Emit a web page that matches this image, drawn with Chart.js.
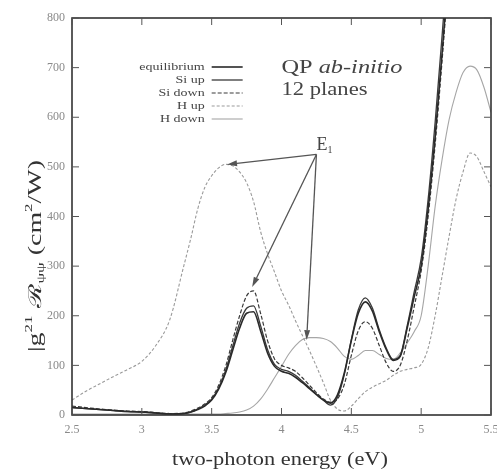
<!DOCTYPE html>
<html>
<head>
<meta charset="utf-8">
<script src="https://cdn.jsdelivr.net/npm/chart.js@4/dist/chart.umd.min.js"></script>
<style>
  html, body { margin: 0; padding: 0; background: #fff; }
  #wrap { width: 497px; height: 470px; }
</style>
</head>
<body>
<div id="wrap"><canvas id="c"></canvas></div>
<script>
// Photon energy grid (eV)
const energy = [2.5, 2.6, 2.7, 2.8, 2.9, 3.0, 3.1, 3.2, 3.3,
  3.35, 3.4, 3.45, 3.5, 3.55, 3.6, 3.65, 3.7, 3.75, 3.8, 3.85, 3.9, 3.95,
  4.0, 4.05, 4.1, 4.15, 4.2, 4.25, 4.3, 4.35, 4.4, 4.45, 4.5, 4.55, 4.6,
  4.65, 4.7, 4.75, 4.8, 4.85, 4.9, 4.95, 5.0, 5.05, 5.1, 5.15, 5.2,
  5.25, 5.3, 5.35, 5.4, 5.45, 5.5];

// Two-photon response (cm^2/W) for each configuration
const equilibrium = [15, 13, 11, 9, 7, 6, 4, 2, 3,
  6, 11, 18, 30, 52, 85, 130, 175, 205, 208, 170, 125, 98,
  88, 84, 76, 65, 53, 41, 30, 24, 40, 85, 150, 205, 228,
  210, 168, 132, 110, 118, 175, 238, 300, 415, 560, 730, 910,
  null, null, null, null, null, null];
const siUp = [15, 13, 11, 9, 7, 6, 4, 2, 3,
  6, 12, 20, 32, 55, 90, 138, 185, 215, 220, 180, 132, 102,
  92, 88, 80, 68, 55, 42, 30, 20, 35, 82, 152, 212, 236,
  216, 172, 135, 112, 120, 180, 248, 315, 435, 590, 765, 950,
  null, null, null, null, null, null];
const siDown = [18, 15, 12, 10, 8, 7, 5, 3, 4,
  8, 14, 22, 35, 60, 98, 150, 200, 240, 250, 205, 150, 113,
  100, 95, 88, 75, 60, 45, 32, 26, 32, 62, 120, 170, 188,
  175, 140, 105, 88, 100, 150, 218, 290, 400, 545, 715, 900,
  null, null, null, null, null, null];
const hUp = [30, 48, 63, 78, 92, 108, 140, 192, 300,
  355, 415, 458, 482, 498, 505, 502, 490, 468, 430, 370, 325, 288,
  250, 222, 190, 160, 130, 98, 65, 30, 12, 8, 18, 33, 47,
  56, 63, 70, 80, 88, 92, 95, 102, 135, 200, 280, 360,
  435, 490, 528, 520, 490, 460];
const hDown = [2, 2, 2, 2, 2, 2, 2, 2, 2,
  2, 2, 2, 2, 2, 3, 4, 6, 10, 18, 32, 52, 75,
  98, 122, 140, 152, 156, 156, 154, 148, 135, 118, 112, 120, 130,
  130, 122, 114, 112, 125, 145, 168, 200, 300, 420, 515, 595,
  650, 690, 703, 695, 660, 610];

// Axis ticks
const xTicks = [2.5, 3, 3.5, 4, 4.5, 5, 5.5];
const yTicks = [0, 100, 200, 300, 400, 500, 600, 700, 800];

// E1 arrows: common tail and the three heads (energy, value)
const arrowTail = [4.25, 525];
const arrowHeads = [[3.61, 505], [3.79, 258], [4.18, 151]];

const SERIF = '"Liberation Serif", "DejaVu Serif", serif';

function series(label, values, color, width, dash) {
  return {
    label,
    data: energy.map((e, i) => ({ x: e, y: values[i] })),
    borderColor: color,
    borderWidth: width,
    borderDash: dash,
    pointRadius: 0,
    fill: false,
    cubicInterpolationMode: 'monotone',
    spanGaps: false
  };
}

const datasets = [
  series('equilibrium', equilibrium, '#2a2a2a', 1.6, []),
  series('Si up', siUp, '#3a3a3a', 1.3, []),
  series('Si down', siDown, '#3a3a3a', 1.2, [4, 2]),
  series('H up', hUp, '#9a9a9a', 1.1, [3, 2]),
  series('H down', hDown, '#a6a6a6', 1.1, [])
];

// draw a list of [text, size, dy, italic] runs, stretched horizontally to a given width
function drawRuns(ctx, runs, x, y, width, align) {
  let total = 0;
  runs.forEach(r => { ctx.font = (r[3] ? 'italic ' : '') + r[1] + 'px ' + SERIF; total += ctx.measureText(r[0]).width; });
  const sx = width ? width / total : 1;
  ctx.save();
  ctx.translate(x, y);
  ctx.scale(sx, 1);
  let cx = align === 'center' ? -total / 2 : align === 'right' ? -total : 0;
  ctx.textAlign = 'left';
  runs.forEach(r => {
    ctx.font = (r[3] ? 'italic ' : '') + r[1] + 'px ' + SERIF;
    ctx.fillText(r[0], cx, r[2]);
    cx += ctx.measureText(r[0]).width;
  });
  ctx.restore();
}

const decor = {
  id: 'decor',
  afterDraw(chart) {
    const { ctx, chartArea: a, scales: { x, y } } = chart;
    ctx.save();
    // frame
    ctx.strokeStyle = '#333';
    ctx.lineWidth = 1.6;
    ctx.setLineDash([]);
    ctx.strokeRect(a.left, a.top, a.right - a.left, a.bottom - a.top);
    // inward tick marks on all four sides
    ctx.lineWidth = 1;
    ctx.strokeStyle = '#555';
    const tl = 7;
    xTicks.forEach(v => {
      const px = x.getPixelForValue(v);
      ctx.beginPath();
      ctx.moveTo(px, a.bottom); ctx.lineTo(px, a.bottom - tl);
      ctx.moveTo(px, a.top); ctx.lineTo(px, a.top + tl);
      ctx.stroke();
    });
    yTicks.forEach(v => {
      const py = y.getPixelForValue(v);
      ctx.beginPath();
      ctx.moveTo(a.left, py); ctx.lineTo(a.left + tl, py);
      ctx.moveTo(a.right, py); ctx.lineTo(a.right - tl, py);
      ctx.stroke();
    });

    // legend
    ctx.textBaseline = 'middle';
    const lx = x.getPixelForValue(3.5);
    chart.data.datasets.forEach((d, i) => {
      const ly = 67 + i * 13;
      ctx.fillStyle = '#444';
      ctx.font = '10px ' + SERIF;
      const w = ctx.measureText(d.label).width;
      drawRuns(ctx, [[d.label, 10, 0]], lx - 7, ly, w * 1.4, 'right');
      ctx.strokeStyle = d.borderColor;
      ctx.lineWidth = d.borderWidth;
      ctx.setLineDash(d.borderDash);
      ctx.beginPath();
      ctx.moveTo(lx, ly); ctx.lineTo(lx + 31, ly);
      ctx.stroke();
    });
    ctx.setLineDash([]);

    // annotation text
    ctx.fillStyle = '#444';
    ctx.textBaseline = 'alphabetic';
    const tx = x.getPixelForValue(4.0);
    const ty = y.getPixelForValue(690);
    drawRuns(ctx, [['QP ', 18, 0], ['ab-initio', 18, 0, true]], tx, ty, 121, 'left');
    drawRuns(ctx, [['12 planes', 18, 0]], tx, ty + 22, 86, 'left');
    // E1 label
    const ex = x.getPixelForValue(4.25);
    const ey = y.getPixelForValue(535);
    drawRuns(ctx, [['E', 18, 0], ['1', 10, 3]], ex, ey, null, 'left');

    // arrows
    const t0 = [x.getPixelForValue(arrowTail[0]), y.getPixelForValue(arrowTail[1])];
    ctx.strokeStyle = '#555';
    ctx.fillStyle = '#555';
    ctx.lineWidth = 1.3;
    arrowHeads.forEach(h => {
      const p = [x.getPixelForValue(h[0]), y.getPixelForValue(h[1])];
      const ang = Math.atan2(p[1] - t0[1], p[0] - t0[0]);
      const hl = 10, hw = 3;
      const bx = p[0] - hl * Math.cos(ang), by = p[1] - hl * Math.sin(ang);
      ctx.beginPath();
      ctx.moveTo(t0[0], t0[1]); ctx.lineTo(bx, by);
      ctx.stroke();
      ctx.beginPath();
      ctx.moveTo(p[0], p[1]);
      ctx.lineTo(bx + hw * Math.sin(ang), by - hw * Math.cos(ang));
      ctx.lineTo(bx - hw * Math.sin(ang), by + hw * Math.cos(ang));
      ctx.closePath();
      ctx.fill();
    });

    // axis titles
    ctx.fillStyle = '#333';
    drawRuns(ctx, [['two-photon energy (eV)', 18, 0]], 280, 465, 216, 'center');

    ctx.translate(36, 256);
    ctx.rotate(-Math.PI / 2);
    ctx.textBaseline = 'middle';
    drawRuns(ctx, [
      ['|g', 18, 0], ['21', 11, -7], [' \u211B', 18, 0], ['\u03C8\u03C8', 11, 5],
      [' (cm', 18, 0], ['2', 11, -7], ['/W)', 18, 0]
    ], 0, 0, 192, 'center');
    ctx.restore();
  }
};

new Chart(document.getElementById('c'), {
  type: 'line',
  data: { datasets },
  options: {
    responsive: true,
    maintainAspectRatio: false,
    animation: false,
    layout: { padding: { left: 0, top: 18, right: 6, bottom: 0 } },
    plugins: { legend: { display: false }, tooltip: { enabled: false } },
    scales: {
      x: {
        type: 'linear',
        min: 2.5, max: 5.5,
        afterBuildTicks: s => { s.ticks = xTicks.map(v => ({ value: v })); },
        afterFit: s => { s.height = 55; s.paddingLeft = 0; s.paddingRight = 0; },
        grid: { display: false, drawTicks: false },
        border: { display: false },
        ticks: {
          color: '#8a8a8a', padding: 8,
          font: { family: SERIF, size: 12 },
          callback: v => String(v)
        }
      },
      y: {
        type: 'linear',
        min: 0, max: 800,
        afterBuildTicks: s => { s.ticks = yTicks.map(v => ({ value: v })); },
        afterFit: s => { s.width = 72; s.paddingTop = 0; s.paddingBottom = 0; },
        grid: { display: false, drawTicks: false },
        border: { display: false },
        ticks: {
          color: '#8a8a8a', padding: 7,
          font: { family: SERIF, size: 12 },
          callback: v => String(v)
        }
      }
    }
  },
  plugins: [decor]
});
</script>
</body>
</html>
